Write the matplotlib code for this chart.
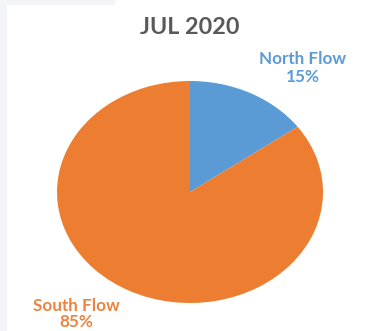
import matplotlib
matplotlib.use("Agg")
import matplotlib.pyplot as plt
from matplotlib.patches import Rectangle

title = "JUL 2020"
categories = ["North Flow", "South Flow"]
values = [15, 85]
colors = ["#5B9BD5", "#ED7D31"]
label_colors = ["#5E9BD3", "#EB8440"]

W, H = 385, 331
fig = plt.figure(figsize=(W / 100, H / 100), dpi=100)
fig.patch.set_facecolor("white")

# faint background strips
fig.patches.append(Rectangle((0, 0), 7 / W, 1, transform=fig.transFigure,
                             facecolor="#F3F4F8", edgecolor="none", zorder=0))
fig.patches.append(Rectangle((0, 1 - 5 / H), 115 / W, 5 / H, transform=fig.transFigure,
                             facecolor="#F5F5F7", edgecolor="none", zorder=0))

left, right, top, bottom = 57, 323, 81, 303
ax = fig.add_axes([left / W, 1 - bottom / H, (right - left) / W, (bottom - top) / H])
ax.pie(values, colors=colors, startangle=90, counterclock=False,
       wedgeprops=dict(linewidth=0))
ax.set_aspect("auto")
ax.set_xlim(-1, 1)
ax.set_ylim(-1, 1)
ax.axis("off")

font = "Lato"
fig.text(190 / W, 1 - 28 / H, title, ha="center", va="center", fontsize=16.8,
         fontweight="bold", color="#595959", family=font)

label_pos = [(303, 59, 77), (76, 306, 322)]
for cat, val, col, (x, y1, y2) in zip(categories, values, label_colors, label_pos):
    fig.text(x / W, 1 - y1 / H, cat, ha="center", va="center", fontsize=12.3,
             fontweight="bold", color=col, family=font)
    fig.text(x / W, 1 - y2 / H, f"{val}%", ha="center", va="center", fontsize=12.3,
             fontweight="bold", color=col, family=font)

fig.savefig("out.png", dpi=100)
